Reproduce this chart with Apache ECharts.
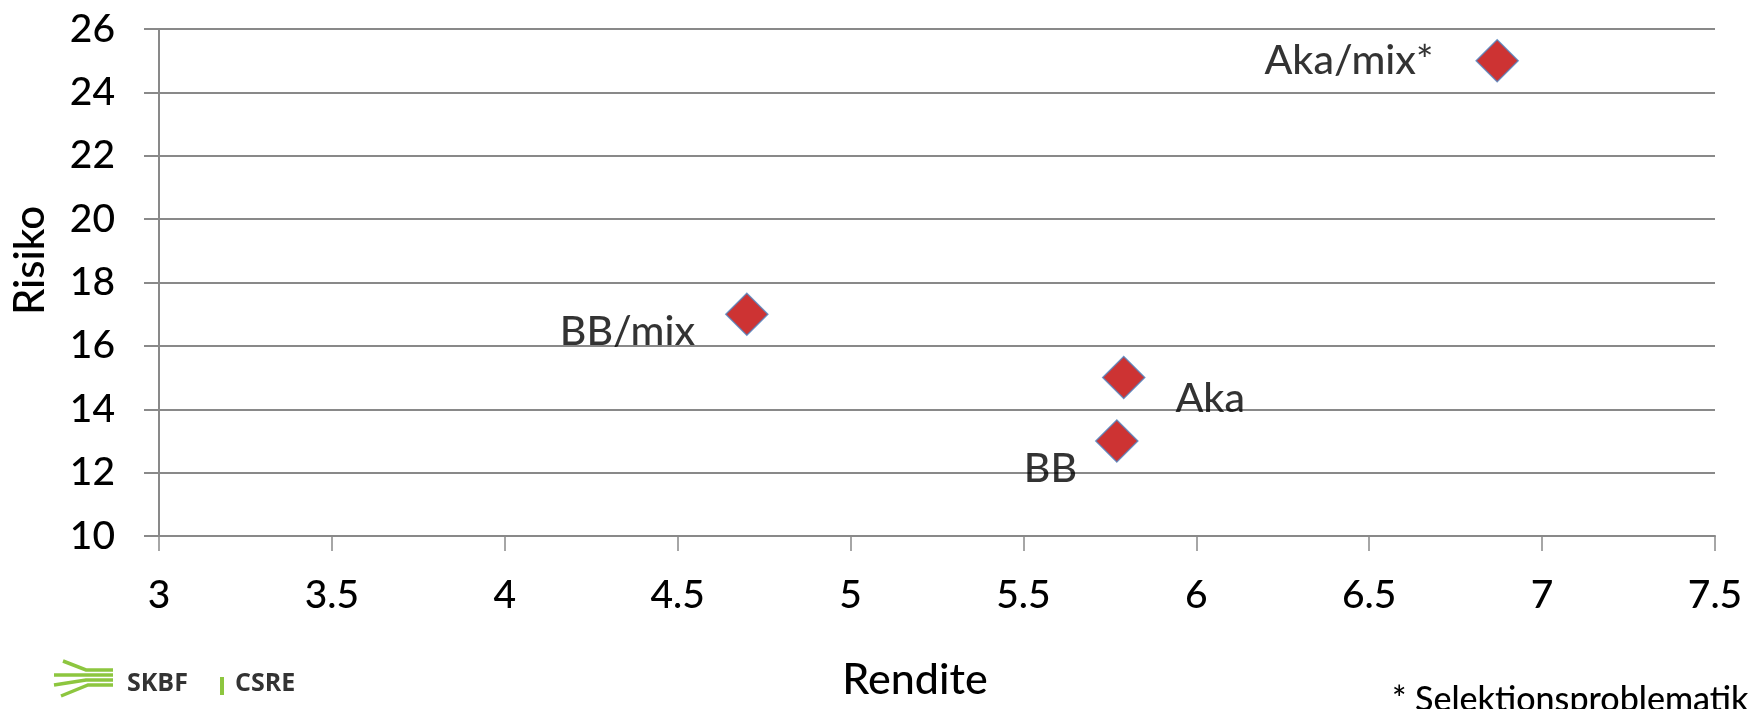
<!DOCTYPE html>
<html>
<head>
<meta charset="utf-8">
<script src="https://cdn.jsdelivr.net/npm/echarts@6/dist/echarts.min.js"></script>
<style>
  html, body { margin: 0; padding: 0; background: #fff; }
  #main { width: 1758px; height: 709px; }
</style>
</head>
<body>
<div id="main"></div>
<script>
// Rendite (x) / Risiko (y) per Gruppe
const names = ['Aka/mix*', 'BB/mix', 'Aka', 'BB'];
const rendite = [6.87, 4.70, 5.79, 5.77];
const risiko = [25, 17, 15, 13];

const xTicks = [3, 3.5, 4, 4.5, 5, 5.5, 6, 6.5, 7, 7.5];
const yTicks = [10, 12, 14, 16, 18, 20, 22, 24, 26];

// where each point label sits relative to its marker
const labelPlace = {
  'Aka/mix*': { position: 'left', distance: 42, offset: [0, 0] },
  'BB/mix': { position: 'left', distance: 30, offset: [0, 18] },
  'Aka': { position: 'right', distance: 30, offset: [0, 21] },
  'BB': { position: 'left', distance: 18, offset: [0, 28] },
};

const FONT = 'Lato';
const GRAY = '#898989';
const GREEN = '#8DC63F';

const points = names.map((n, i) => ({
  name: n,
  value: [rendite[i], risiko[i]],
  label: Object.assign({ show: true, formatter: n }, labelPlace[n]),
}));

const chart = echarts.init(document.getElementById('main'));

chart.setOption({
  animation: false,
  grid: { left: 159, right: 43, top: 29, bottom: 173 },
  xAxis: {
    type: 'value',
    min: xTicks[0],
    max: xTicks[xTicks.length - 1],
    interval: xTicks[1] - xTicks[0],
    name: 'Rendite',
    nameLocation: 'middle',
    nameGap: 144,
    nameTextStyle: {
      fontFamily: FONT, fontWeight: 500, fontSize: 43, color: '#000',
      verticalAlign: 'middle', padding: [0, 44, 0, 0],
    },
    axisLine: { show: true, lineStyle: { color: GRAY, width: 2 } },
    axisTick: { show: true, length: 15, lineStyle: { color: GRAY, width: 1.5 } },
    axisLabel: { fontFamily: FONT, fontWeight: 500, fontSize: 39, color: '#000', margin: 40 },
    splitLine: { show: false },
  },
  yAxis: {
    type: 'value',
    min: yTicks[0],
    max: yTicks[yTicks.length - 1],
    interval: yTicks[1] - yTicks[0],
    name: 'Risiko',
    nameLocation: 'middle',
    nameGap: 129,
    nameTextStyle: {
      fontFamily: FONT, fontWeight: 500, fontSize: 42, color: '#000',
      verticalAlign: 'middle', padding: [0, 0, 0, 44],
    },
    axisLine: { show: true, lineStyle: { color: GRAY, width: 2 } },
    axisTick: { show: true, length: 15, lineStyle: { color: GRAY, width: 2 } },
    axisLabel: { fontFamily: FONT, fontWeight: 500, fontSize: 39, color: '#000', margin: 44 },
    splitLine: { show: true, lineStyle: { color: GRAY, width: 2 } },
  },
  series: [
    {
      type: 'scatter',
      symbol: 'diamond',
      symbolSize: 42,
      itemStyle: { color: '#C00000', borderColor: '#4F81BD', borderWidth: 1.5 },
      label: { fontFamily: FONT, fontWeight: 500, fontSize: 41, color: '#000' },
      data: points,
    },
  ],
  graphic: [
    // footnote
    {
      type: 'text', left: 1392, top: 683,
      style: { text: '* Selektionsproblematik', font: '500 34px Lato', fill: '#000' },
    },
    // logo: green fibre lines
    {
      type: 'polyline',
      shape: { points: [[63, 661], [86, 670], [113, 670]] },
      style: { stroke: GREEN, lineWidth: 3.5, fill: null },
    },
    {
      type: 'polyline',
      shape: { points: [[54, 675], [113, 675]] },
      style: { stroke: GREEN, lineWidth: 3.5, fill: null },
    },
    {
      type: 'polyline',
      shape: { points: [[54, 685], [86, 680], [113, 680]] },
      style: { stroke: GREEN, lineWidth: 3.5, fill: null },
    },
    {
      type: 'polyline',
      shape: { points: [[61, 696], [88, 685], [113, 685]] },
      style: { stroke: GREEN, lineWidth: 3.5, fill: null },
    },
    {
      type: 'text', left: 127, top: 671,
      style: { text: 'SKBF', font: 'bold 25px "Open Sans"', fill: '#333' },
    },
    {
      type: 'rect', shape: { x: 220, y: 677, width: 4, height: 18 },
      style: { fill: GREEN },
    },
    {
      type: 'text', left: 235, top: 671,
      style: { text: 'CSRE', font: 'bold 25px "Open Sans"', fill: '#333' },
    },
  ],
});
</script>
</body>
</html>
